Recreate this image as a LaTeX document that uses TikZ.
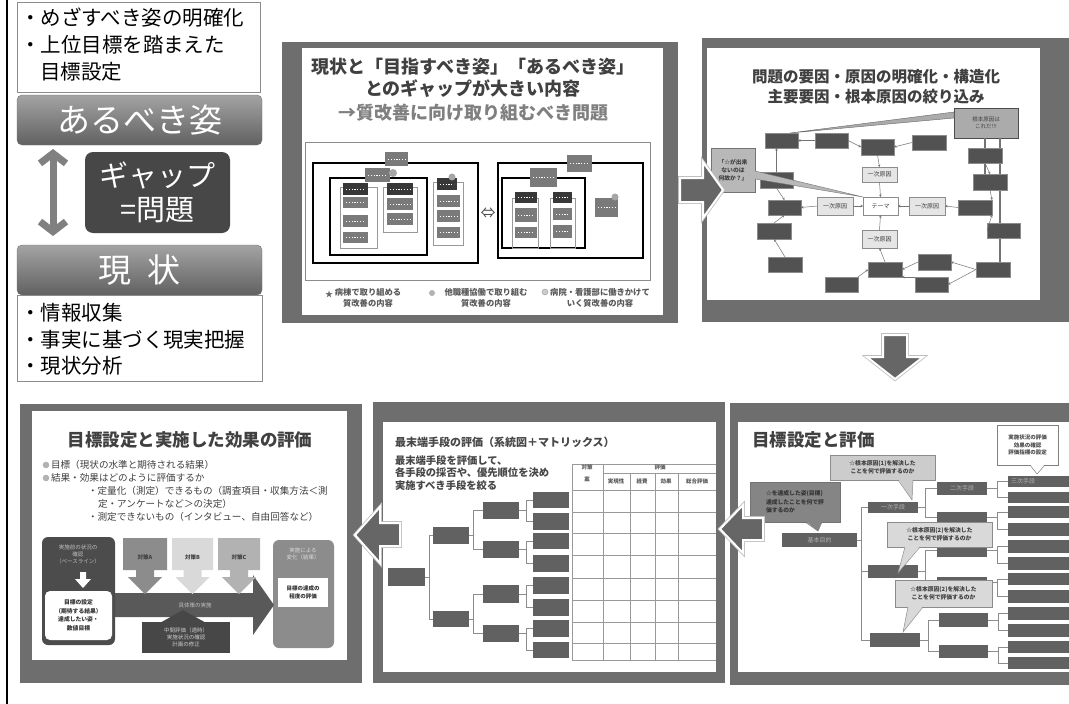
\documentclass[tikz,border=0pt]{standalone}
\usepackage{fontspec}
\setmainfont{Noto Sans CJK JP}
\usetikzlibrary{arrows.meta}
\newcommand\myfs[2]{\fontsize{#1}{#2}\selectfont}
\newcommand\mkbox[7]{\node[#2, minimum width={(#5)-(#3)}, minimum height={(#6)-(#4)}] (#1) at ({((#3)+(#5))/2},{((#4)+(#6))/2}) {#7};}
\begin{document}
\begin{tikzpicture}[x=1pt,y=-1pt,
  every node/.style={inner sep=0pt, outer sep=0pt},
  sgray/.style={fill=black!57},
  dk/.style={fill=black!68, draw=black!45, line width=0.4pt},
  mini/.style={fill=black!52, path picture={\draw[white, line width=0.5pt, dash pattern=on 1.2pt off 1.6pt] ([xshift=3pt]path picture bounding box.west) -- ([xshift=-3pt]path picture bounding box.east);}},
  minidk/.style={mini, fill=black!78},
  colr/.style={draw=black!40, line width=0.6pt},
  brect/.style={draw=black, line width=1.6pt},
  irect/.style={draw=black, line width=1.2pt},
  ar/.style={draw=black!55, line width=0.5pt, -{Stealth[length=2.5pt,width=2.5pt]}},
  ln/.style={draw=black!45, line width=0.5pt},
  yb/.style={fill=black!10, draw=black!45, line width=0.5pt, font=\myfs{6}{6}, text=black!75},
  tx/.style={font=\myfs{5.5}{7}, align=center},
  barw/.style={draw=black!45, line width=0.8pt, fill=white},
  bar/.style={rounded corners=5pt, top color=black!36, bottom color=black!62, draw=black!55, text=white, font=\myfs{33}{33}},
  bigtxt/.style={anchor=west, font=\myfs{20.5}{21}, text=black},
  blk/.style={fill=black!60, draw=white, line width=2pt},
  blkshadow/.style={draw=black!25, line width=3.6pt}
]
\fill[white] (0,0) rectangle (1069,704);
\useasboundingbox (0,0) rectangle (1069,704);

% ================= left panel =================
\draw[line width=1.3pt] (7,0) -- (7,704);
\mkbox{tbox}{barw}{17}{2}{260}{92}{}
\node[bigtxt] (t1) at (20,18) {・めざすべき姿の明確化};
\node[bigtxt] (t2) at (20,45) {・上位目標を踏まえた};
\node[bigtxt] (t3) at (40,72) {目標設定};
\mkbox{ideal}{bar}{17}{95}{262}{145}{あるべき姿}
\mkbox{gap}{rounded corners=8pt, fill=black!72, text=white, font=\myfs{29}{34}, align=center}{85}{152}{230}{233}{ギャップ\\=問題}
\mkbox{now}{bar}{17}{245}{262}{295}{現\hspace{0.5em}状}
\mkbox{bbox}{barw}{17}{295}{262}{381}{}
\node[bigtxt] (b1t) at (20,313) {・情報収集};
\node[bigtxt] (b2t) at (20,340) {・事実に基づく現実把握};
\node[bigtxt] (b3t) at (20,366) {・現状分析};
\coordinate (da1) at (53,149);
\coordinate (da2) at (53,236);
\draw[line width=7pt, black!50, {Straight Barb[length=10pt,width=26pt]}-{Straight Barb[length=10pt,width=26pt]}] (da1) -- (da2);

% ================= slide 1 =================
\fill[sgray] (282,42) rectangle (678,323);
\fill[white] (302,48) rectangle (663,315);
\node[font=\bfseries\myfs{18}{18}, text=black!75] (s1t1) at (473,67) {現状と「目指すべき姿」「あるべき姿」};
\node[font=\bfseries\myfs{18}{18}, text=black!75] (s1t2) at (473,89) {とのギャップが大きい内容};
\node[font=\bfseries\myfs{18}{18}, text=black!50] (s1t3) at (473,113) {→質改善に向け取り組むべき問題};
\draw[black!45, line width=1pt] (305,142) rectangle (650,280);
% left structure
\mkbox{L0}{brect}{313}{163}{478}{263}{}
\mkbox{L1}{irect}{330}{178}{427}{255}{}
\mkbox{Lc1}{colr}{340}{187}{377}{248}{}
\mkbox{Lc2}{colr}{383}{187}{417}{232}{}
\mkbox{Lc3}{colr}{433}{182}{463}{245}{}
\mkbox{s1a}{mini}{385}{152}{408}{166}{}
\mkbox{s1b}{mini}{365}{168}{390}{182}{}
\fill[black!35] (393,173) circle (4);
\mkbox{c1a}{minidk}{343}{183}{368}{195}{}
\mkbox{c1b}{mini}{343}{197}{368}{208}{}
\mkbox{c1c}{mini}{343}{215}{368}{227}{}
\mkbox{c1d}{mini}{343}{232}{368}{243}{}
\mkbox{c2a}{minidk}{387}{183}{413}{195}{}
\mkbox{c2b}{mini}{387}{198}{413}{210}{}
\mkbox{c2c}{mini}{387}{213}{413}{225}{}
\mkbox{c3a}{minidk}{437}{178}{457}{190}{}
\fill[black!35] (452,177) circle (3.5);
\mkbox{c3b}{mini}{437}{195}{460}{207}{}
\mkbox{c3c}{mini}{437}{210}{460}{222}{}
\mkbox{c3d}{mini}{437}{227}{460}{238}{}
\node[font=\myfs{15}{15}, text=black!70] (dbl) at (488,213) {⇔};
% right structure
\mkbox{R0}{brect}{498}{163}{643}{258}{}
\mkbox{R1}{irect}{502}{178}{585}{248}{}
\mkbox{r1}{mini}{567}{155}{592}{172}{}
\mkbox{r2}{mini}{530}{168}{557}{187}{}
\mkbox{Rc1}{colr}{512}{198}{538}{248}{}
\mkbox{Rc2}{colr}{550}{198}{575}{248}{}
\mkbox{d1a}{minidk}{515}{192}{537}{203}{}
\mkbox{d1b}{mini}{515}{208}{537}{222}{}
\mkbox{d1c}{mini}{515}{227}{537}{238}{}
\mkbox{d2a}{minidk}{553}{192}{572}{203}{}
\mkbox{d2b}{mini}{553}{208}{572}{220}{}
\mkbox{d2c}{mini}{553}{225}{572}{238}{}
\mkbox{r3}{mini}{595}{198}{618}{217}{}
\fill[black!35] (615,197) circle (3.5);
% legend
\node[font=\myfs{8}{8}, text=black!60] (lg1s) at (329,294) {★};
\node[font=\bfseries\myfs{8.3}{10.5}, text=black!65, align=center] (lg1) at (368,298) {病棟で取り組める\\質改善の内容};
\fill[black!30] (432,293) circle (3);
\node[font=\bfseries\myfs{8.3}{10.5}, text=black!65, align=center] (lg2) at (486,298) {他職種協働で取り組む\\質改善の内容};
\draw[black!40, fill=black!20] (545,292) circle (3);
\node[font=\bfseries\myfs{8.3}{10.5}, text=black!65, align=center] (lg3) at (600,298) {病院・看護部に働きかけて\\いく質改善の内容};

% ================= slide 2 =================
\fill[sgray] (702,38) rectangle (1069,322);
\fill[white] (707,48) rectangle (1040,300);
\node[font=\bfseries\myfs{15.5}{16}, text=black!75] (s2t1) at (876,77) {問題の要因・原因の明確化・構造化};
\node[font=\bfseries\myfs{15.5}{16}, text=black!75] (s2t2) at (876,97) {主要要因・根本原因の絞り込み};
\coordinate (v1) at (985,0);
\coordinate (v2) at (1000,0);
\mkbox{rc}{fill=black!33, draw=black!70, line width=0.6pt, tx, text=black!75}{954}{108}{1018}{138}{根本原因は\\これだ!!!}
\draw[line width=1.3pt, black!55] (rc.south -| v1) -- (260,174 -| v1);
\draw[line width=1.3pt, black!55] (rc.south -| v2) -- (260,262 -| v2);
\mkbox{b1}{dk}{765}{133}{798}{148}{}
\mkbox{b2}{dk}{815}{133}{848}{148}{}
\mkbox{b3}{dk}{861}{139}{894}{155}{}
\mkbox{b4}{dk}{912}{135}{946}{150}{}
\mkbox{b5}{dk}{968}{148}{1002}{163}{}
\mkbox{b6}{dk}{973}{174}{1007}{190}{}
\mkbox{b7}{dk}{958}{200}{992}{215}{}
\mkbox{b8}{dk}{987}{223}{1020}{238}{}
\mkbox{b9}{dk}{976}{262}{1010}{277}{}
\mkbox{b10}{dk}{918}{254}{951}{270}{}
\mkbox{b11}{dk}{915}{277}{948}{292}{}
\mkbox{b12}{dk}{868}{262}{902}{277}{}
\mkbox{b13}{dk}{825}{277}{858}{292}{}
\mkbox{b14}{dk}{768}{257}{802}{272}{}
\mkbox{b15}{dk}{757}{223}{791}{239}{}
\mkbox{b16}{dk}{768}{200}{801}{215}{}
\mkbox{b17}{dk}{760}{172}{793}{188}{}
\mkbox{ict}{yb}{862}{167}{897}{182}{一次原因}
\mkbox{icl}{yb}{817}{197}{853}{215}{一次原因}
\mkbox{icr}{yb}{909}{197}{945}{215}{一次原因}
\mkbox{icb}{yb}{862}{230}{897}{248}{一次原因}
\mkbox{theme}{fill=white, draw=black!45, line width=0.5pt, font=\myfs{6}{6}, text=black!75}{863}{197}{898}{215}{テーマ}
\draw[ar] (b2.west) -- (b1.east);
\draw[ar] (b2.east) -- (b3.west);
\draw[ar] (b4.west) -- (b3.east);
\draw[ar] (b3.south) -- (ict.north);
\draw[ar] (ict.south) -- (theme.north);
\draw[ar, line width=0.9pt] (icl.east) -- (theme.west);
\draw[ar, line width=0.9pt] (icr.west) -- (theme.east);
\draw[ar] (icb.north) -- (theme.south);
\draw[ar] (icl.west) -- (b16.east);
\draw[ar] (b7.west) -- (icr.east);
\draw[ar] (b12.north) -- (icb.south);
\draw[ar] (b13.north east) -- (b12.west);
\draw[ar] (b10.west) -- (b12.east);
\draw[ar] (b11.north west) -- (b12.south east);
\draw[ar] (b9.west) -- (b10.east);
\draw[ar] (b9.west) -- (b11.east);
\draw[ar] (b14.north) -- (b15.south);
\draw[ar] (b15.north) -- (b16.south);
\draw[ar] (b17.south) -- (b16.north);
\draw[ar] (b17.north) -- (b17.north |- b1.south);
\draw[ar] (b5.south) -- (b6.north);
\draw[ar] (b6.south) -- (b7.north east);
\draw[ar] (b8.west) -- (b7.south east);
\filldraw[fill=black!33, draw=black!60, line width=0.4pt] ([yshift=11pt]rc.west) -- ([xshift=-8pt]b1.north east) -- ([yshift=5pt]rc.west) -- cycle;
\mkbox{lc}{fill=black!28, draw=black!55, line width=0.6pt, font=\bfseries\myfs{5.8}{8}, align=center, text=black!75}{711}{148}{755}{192}{「☆が出来\\ないのは\\何故か？」}
\filldraw[fill=black!28, draw=black!55, line width=0.4pt] ([yshift=-1pt]lc.east) -- (theme.north west) -- ([yshift=-9pt]lc.east);
\fill[black!28] ([xshift=-1pt,yshift=-1pt]lc.east) rectangle ([yshift=-9pt]lc.east);

% ================= slide 3 (bottom right) =================
\fill[sgray] (730,403) rectangle (1069,685);
\fill[white] (738,422) rectangle (1069,672);
\node[anchor=west, font=\bfseries\myfs{17.5}{18}, text=black!75] (s3t) at (752,440) {目標設定と評価};
\mkbox{root3}{fill=black!62, font=\myfs{6}{6}, text=black!30}{782}{533}{857}{547}{基本目的}
\mkbox{fa}{fill=black!62, font=\myfs{6}{6}, text=black!30}{868}{502}{918}{513}{一次手段}
\mkbox{fb}{fill=black!62}{868}{565}{918}{578}{}
\mkbox{fc}{fill=black!62}{870}{633}{920}{647}{}
\mkbox{sc1}{fill=black!62, font=\myfs{6}{6}, text=black!30}{937}{482}{987}{495}{二次手段}
\mkbox{sc2}{fill=black!62}{937}{512}{987}{523}{}
\mkbox{sc3}{fill=black!62}{937}{543}{987}{557}{}
\mkbox{sc4}{fill=black!62}{937}{577}{987}{587}{}
\mkbox{sc5}{fill=black!62}{939}{613}{988}{627}{}
\mkbox{sc6}{fill=black!62}{939}{645}{988}{658}{}
\foreach \ya/\yb [count=\i] in {476/487,492/503,506/518,523/536,540/553,557/570,573/585,590/603,607/620,624/637,641/653,657/669}{
  \mkbox{tc\i}{fill=black!62}{1008}{\ya}{1069}{\yb}{}
}
\node[anchor=west, font=\myfs{6}{6}, text=black!30] (tct) at ([xshift=3pt]tc1.west) {三次手段};
\draw[ln] (root3.east) -- ++(4,0) |- (fa.west);
\draw[ln] (root3.east) -- ++(4,0) |- (fb.west);
\draw[ln] (root3.east) -- ++(4,0) |- (fc.west);
\draw[ln] (fa.east) -- ++(7,0) |- (sc1.west);
\draw[ln] (fa.east) -- ++(7,0) |- (sc2.west);
\draw[ln] (fb.east) -- ++(7,0) |- (sc3.west);
\draw[ln] (fb.east) -- ++(7,0) |- (sc4.west);
\draw[ln] (fc.east) -- ++(8,0) |- (sc5.west);
\draw[ln] (fc.east) -- ++(8,0) |- (sc6.west);
\foreach \k in {1,...,6}{
  \pgfmathtruncatemacro\ka{2*\k-1}
  \pgfmathtruncatemacro\kb{2*\k}
  \draw[ln] (sc\k.east) -- ++(10,0) |- (tc\ka.west);
  \draw[ln] (sc\k.east) -- ++(10,0) |- (tc\kb.west);
}
% callouts
\mkbox{ct}{fill=white, draw=black!50, line width=0.5pt, font=\bfseries\myfs{5.5}{7.5}, align=center, text=black!70}{997}{425}{1058}{465}{実施状況の評価\\効果の確認\\評価指標の設定}
\coordinate (ctp) at (1037,474);
\fill[white] (1030,464) -- (ctp) -- (1045,464) -- cycle;
\draw[black!50, line width=0.5pt] (1030,465) -- (ctp) -- (1045,465);
\mkbox{cc1}{fill=black!20, draw=black!45, line width=0.5pt, font=\bfseries\myfs{5.8}{8}, align=center, text=black!75}{830}{455}{935}{480}{☆根本原因(1)を解決した\\ことを何で評価するのか}
\coordinate (cc1p) at (912,500);
\fill[black!20] (898,479) -- (cc1p) -- (913,479) -- cycle;
\draw[black!45, line width=0.5pt] (898,480) -- (cc1p) -- (913,480);
\mkbox{cc0}{fill=black!48, draw=black!55, line width=0.5pt, font=\bfseries\myfs{5.8}{8.5}, align=left, text=black!80}{750}{482}{840}{522}{☆を達成した姿(目標)\\達成したことを何で評\\価するのか}
\coordinate (cc0p) at (818,531);
\fill[black!48] (805,521) -- (cc0p) -- (822,521) -- cycle;
\draw[black!55, line width=0.5pt] (805,522) -- (cc0p) -- (822,522);
\mkbox{cc2}{fill=black!15, draw=black!45, line width=0.5pt, font=\bfseries\myfs{5.8}{8}, align=center, text=black!75}{887}{522}{992}{547}{☆根本原因(2)を解決した\\ことを何で評価するのか}
\coordinate (cc2p) at (898,573);
\fill[black!15] (905,546) -- (cc2p) -- (920,546) -- cycle;
\draw[black!45, line width=0.5pt] (905,547) -- (cc2p) -- (920,547);
\mkbox{cc3}{fill=black!15, draw=black!45, line width=0.5pt, font=\bfseries\myfs{5.8}{8}, align=center, text=black!75}{895}{580}{992}{607}{☆根本原因(2)を解決した\\ことを何で評価するのか}
\coordinate (cc3p) at (903,632);
\fill[black!15] (908,606) -- (cc3p) -- (923,606) -- cycle;
\draw[black!45, line width=0.5pt] (908,607) -- (cc3p) -- (923,607);

% ================= slide 4 (bottom middle) =================
\fill[sgray] (373,402) rectangle (725,683);
\fill[white] (383,422) rectangle (716,672);
\node[anchor=west, font=\bfseries\myfs{11}{11}, text=black!72] (s4t) at (395,442) {最末端手段の評価（系統図＋マトリックス）};
\node[anchor=west, font=\bfseries\myfs{10.3}{10.5}, text=black!72] (s4a) at (395,461) {最末端手段を評価して、};
\node[anchor=west, font=\bfseries\myfs{10.3}{10.5}, text=black!72] (s4b) at (395,473) {各手段の採否や、優先順位を決め};
\node[anchor=west, font=\bfseries\myfs{10.3}{10.5}, text=black!72] (s4c) at (395,486) {実施すべき手段を絞る};
% table
\begin{scope}[black!40, line width=0.5pt]
\draw (572,464) -- (716,464);
\draw (603,473) -- (716,473);
\foreach \yy in {490,512,533,555,578,600,622,643,660}{\draw (572,\yy) -- (716,\yy);}
\draw (572,464) -- (572,660);
\draw (603,464) -- (603,660);
\foreach \xx in {630,655,678}{\draw (\xx,473) -- (\xx,660);}
\end{scope}
\node[font=\bfseries\myfs{5.5}{5.5}, text=black!65] (h1) at (587,467) {対策};
\node[font=\bfseries\myfs{5.5}{5.5}, text=black!65] (h2) at (587,479) {案};
\node[font=\bfseries\myfs{5.5}{5.5}, text=black!65] (h3) at (660,467) {評価};
\node[font=\bfseries\myfs{5.5}{5.5}, text=black!65] (h4) at (616,481) {実現性};
\node[font=\bfseries\myfs{5.5}{5.5}, text=black!65] (h5) at (642,481) {経費};
\node[font=\bfseries\myfs{5.5}{5.5}, text=black!65] (h6) at (666,481) {効果};
\node[font=\bfseries\myfs{5.5}{5.5}, text=black!65] (h7) at (697,481) {総合評価};
% tree
\mkbox{sr}{fill=black!62}{388}{568}{425}{586}{}
\mkbox{sa1}{fill=black!62}{433}{527}{469}{544}{}
\mkbox{sa2}{fill=black!62}{433}{611}{469}{627}{}
\mkbox{sb1}{fill=black!62}{483}{502}{519}{519}{}
\mkbox{sb2}{fill=black!62}{483}{541}{519}{558}{}
\mkbox{sb3}{fill=black!62}{483}{585}{519}{603}{}
\mkbox{sb4}{fill=black!62}{483}{625}{519}{642}{}
\foreach \ya/\yb [count=\i] in {492/508,513/530,533/549,555/572,577/594,599/616,620/637,642/658}{
  \mkbox{lf\i}{fill=black!62}{533}{\ya}{569}{\yb}{}
}
\draw[ln] (sr.east) -- ++(4,0) |- (sa1.west);
\draw[ln] (sr.east) -- ++(4,0) |- (sa2.west);
\draw[ln] (sa1.east) -- ++(4,0) |- (sb1.west);
\draw[ln] (sa1.east) -- ++(4,0) |- (sb2.west);
\draw[ln] (sa2.east) -- ++(4,0) |- (sb3.west);
\draw[ln] (sa2.east) -- ++(4,0) |- (sb4.west);
\foreach \k in {1,...,4}{
  \pgfmathtruncatemacro\ka{2*\k-1}
  \pgfmathtruncatemacro\kb{2*\k}
  \draw[ln] (sb\k.east) -- ++(7,0) |- (lf\ka.west);
  \draw[ln] (sb\k.east) -- ++(7,0) |- (lf\kb.west);
}

% ================= slide 5 (bottom left) =================
\fill[sgray] (20,404) rectangle (362,683);
\fill[white] (32,411) rectangle (347,660);
\node[font=\bfseries\myfs{17.5}{18}, text=black!75] (s5t) at (190,440) {目標設定と実施した効果の評価};
\fill[black!30] (46,465) circle (3.3);
\fill[black!30] (46,478) circle (3.3);
\node[anchor=west, font=\myfs{9.6}{10}, text=black!75] (p1) at (51,465) {目標（現状の水準と期待される結果）};
\node[anchor=west, font=\myfs{9.6}{10}, text=black!75] (p2) at (51,478) {結果・効果はどのように評価するか};
\node[anchor=west, font=\myfs{9.6}{10}, text=black!75] (p3) at (88,491) {・定量化（測定）できるもの（調査項目・収集方法＜測};
\node[anchor=west, font=\myfs{9.6}{10}, text=black!75] (p4) at (98,504) {定・アンケートなど＞の決定）};
\node[anchor=west, font=\myfs{9.6}{10}, text=black!75] (p5) at (88,517) {・測定できないもの（インタビュー、自由回答など）};
% right result box
\mkbox{res}{rounded corners=6pt, fill=black!45}{273}{540}{334}{648}{}
\node[tx, text=black!15] (rest) at (303,554) {実施による\\変化（結果）};
\mkbox{resw}{fill=white, font=\bfseries\myfs{5.5}{7.5}, align=center, text=black!80}{278}{578}{328}{607}{目標の達成の\\程度の評価}
% big arrow
\fill[black!65] (112,593) -- (253,593) -- (253,575) -- (274,605) -- (253,635) -- (253,617) -- (112,617) -- cycle;
\node[tx, text=black!25] (impl) at (195,605) {具体策の実施};
% left box
\mkbox{base}{rounded corners=6pt, fill=black!70}{42}{537}{115}{645}{}
\node[tx, text=black!25] (baset) at (78,554) {実施前の状況の\\確認\\（ベースライン）};
\fill[white] (80,572) -- (86,572) -- (86,579) -- (91,579) -- (83,588) -- (75,579) -- (80,579) -- cycle;
\mkbox{goal}{rounded corners=5pt, fill=white, font=\bfseries\myfs{5.8}{8.5}, align=center, text=black!80}{45}{591}{112}{640}{目標の設定\\（期待する結果）\\達成したい姿・\\数値目標}
% measures
\foreach \a/\b/\c/\col/\lab in {123/167/145/black!45/A, 172/213/192.5/black!15/B, 218/260/239/black!30/C}{
  \fill[\col] (\a,538) -- (\b,538) -- (\b,570) -- (\c+9,570) -- (\c+9,577) -- (\c+17,577) -- (\c,594) -- (\c-17,577) -- (\c-9,577) -- (\c-9,570) -- (\a,570) -- cycle;
  \node[font=\bfseries\myfs{5.5}{5.5}, text=black!75] (m\lab) at (\c,557) {対策\lab};
}
% mid evaluation
\fill[black!72] (158,624) -- (183,610) -- (208,624) -- cycle;
\mkbox{mid}{fill=black!72, tx, text=black!20}{142}{622}{230}{653}{中間評価（適時）\\実施状況の確認\\計画の修正}

% ================= block arrows between slides (on top) =================
\draw[blkshadow] (680,178) -- (703,178) -- (703,162) -- (723,190) -- (703,218) -- (703,202) -- (680,202) -- cycle;
\filldraw[blk] (680,178) -- (703,178) -- (703,162) -- (723,190) -- (703,218) -- (703,202) -- (680,202) -- cycle;
\draw[blkshadow] (883,335) -- (907,335) -- (907,357) -- (923,357) -- (895,379) -- (867,357) -- (883,357) -- cycle;
\filldraw[blk] (883,335) -- (907,335) -- (907,357) -- (923,357) -- (895,379) -- (867,357) -- (883,357) -- cycle;
\draw[blkshadow] (763,518) -- (743,518) -- (743,505) -- (720,529) -- (743,553) -- (743,540) -- (763,540) -- cycle;
\filldraw[blk] (763,518) -- (743,518) -- (743,505) -- (720,529) -- (743,553) -- (743,540) -- (763,540) -- cycle;
\draw[blkshadow] (400,523) -- (380,523) -- (380,507) -- (355,535) -- (380,563) -- (380,546) -- (400,546) -- cycle;
\filldraw[blk] (400,523) -- (380,523) -- (380,507) -- (355,535) -- (380,563) -- (380,546) -- (400,546) -- cycle;
\end{tikzpicture}
\end{document}
